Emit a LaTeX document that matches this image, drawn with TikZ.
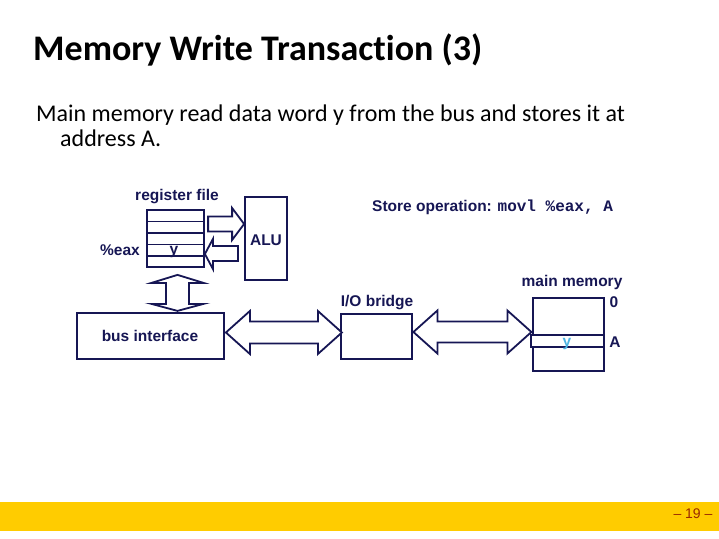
\documentclass[tikz,border=0pt]{standalone}
\usepackage{fontspec}
\setmainfont{Carlito}[Ligatures=NoCommon]
\newfontfamily\arialf{Liberation Sans}
\newfontfamily\courf{Liberation Mono}
\usetikzlibrary{calc}
\definecolor{navy}{RGB}{22,22,84}
\definecolor{skyv}{RGB}{78,180,226}
\definecolor{bandyellow}{RGB}{255,204,0}
\definecolor{pagered}{RGB}{153,40,0}
\begin{document}
\begin{tikzpicture}[x=1bp,y=-1bp,
  box/.style={draw=navy,line width=1.8bp,fill=white,inner sep=0pt,rectangle},
  lbl/.style={text=navy,font=\arialf\bfseries\fontsize{15.5bp}{18bp}\selectfont,inner sep=0pt},
  barr/.style={draw=navy,line width=1.8bp,fill=white,line join=miter},
  ttl/.style={font=\bfseries\fontsize{36bp}{40bp}\selectfont,inner sep=0pt,anchor=base west},
  body/.style={font=\fontsize{24bp}{28bp}\selectfont,inner sep=0pt,anchor=base west}]
\useasboundingbox (0,0) rectangle (719,539);
% footer band
\fill[bandyellow] (0,502) rectangle (719,531);
\node[text=pagered,font=\arialf\fontsize{14bp}{16bp}\selectfont,inner sep=0pt] (pg) at (693,514) {– 19 –};
% title and body
\node[ttl] (title) at (33,61) {Memory Write Transaction (3)};
\node[body] (l1) at (36,122) {Main memory read data word y from the bus and stores it at};
\node[body] (l2) at (60,147) {address A.};
% register file
\node[box,minimum width=57bp,minimum height=57bp] (rf) at (175.5,238.5) {};
\foreach \yy in {221.5,233,244.5,256} \draw[navy,line width=1.8bp] (147,\yy) -- (204,\yy);
\node[lbl] (rfl) at (177,197) {register file};
\node[lbl] (eax) at (120,250) {\%eax};
\node[lbl,anchor=base] (ry) at (174,255) {y};
% ALU
\node[box,minimum width=42bp,minimum height=83bp] (alu) at (266,238.5) {};
\node[lbl] (alul) at (266,240) {ALU};
% arrows rf <-> alu
\draw[barr] ($(alu.west)+(0,-14.5)$) -- ++(-12,-16) -- ++(0,8.5) -- ++(-24,0) -- ++(0,15) -- ++(24,0) -- ++(0,8.5) -- cycle;
\draw[barr] ($(rf.east)+(0,15.5)$) -- ++(8,-15) -- ++(0,7) -- ++(25,0) -- ++(0,15) -- ++(-25,0) -- ++(0,8) -- cycle;
% bus interface
\node[box,minimum width=147bp,minimum height=46bp] (bi) at (150.5,336) {};
\node[lbl] (bil) at (150,336) {bus interface};
% vertical double arrow
\draw[barr] ($(rf.south)+(2,7)$) -- ++(26,8) -- ++(-14.5,0) -- ++(0,21) -- ++(14.5,0) -- ++(-26,7) -- ++(-26,-7) -- ++(14.5,0) -- ++(0,-21) -- ++(-14.5,0) -- cycle;
% I/O bridge
\node[box,minimum width=71bp,minimum height=45bp] (iob) at (376.5,336.5) {};
\node[lbl] (iobl) at (377,303) {I/O bridge};
% main memory
\node[box,minimum width=71bp,minimum height=73bp] (mm) at (568.5,334.5) {};
\node[box,minimum width=73bp,minimum height=11.7bp] (rowa) at (567.5,340.8) {};
\node[text=skyv,font=\arialf\bfseries\fontsize{15.5bp}{18bp}\selectfont,inner sep=0pt,anchor=base] (my) at (567,346) {y};
\node[lbl] (mml) at (572,282) {main memory};
\node[lbl] (zero) at (614,302) {0};
\node[lbl] (addr) at (615,342) {A};
% horizontal double arrows
\draw[barr] ($(bi.east)+(1,-3.5)$) -- ++(24,-21.5) -- ++(0,10.5) -- ++(68,0) -- ++(0,-10.5) -- ++(24,21.5) -- ++(-24,21.5) -- ++(0,-10.5) -- ++(-68,0) -- ++(0,10.5) -- cycle;
\draw[barr] ($(iob.east)+(0.5,-4.5)$) -- ++(24,-21.5) -- ++(0,11) -- ++(70,0) -- ++(0,-11) -- ++(24,21.5) -- ++(-24,21.5) -- ++(0,-11) -- ++(-70,0) -- ++(0,11) -- cycle;
% store operation
\node[lbl,anchor=base west] (store) at (372,212) {Store operation: {\courf\bfseries\fontsize{16bp}{18bp}\selectfont movl \%eax, A}};
\end{tikzpicture}
\end{document}
